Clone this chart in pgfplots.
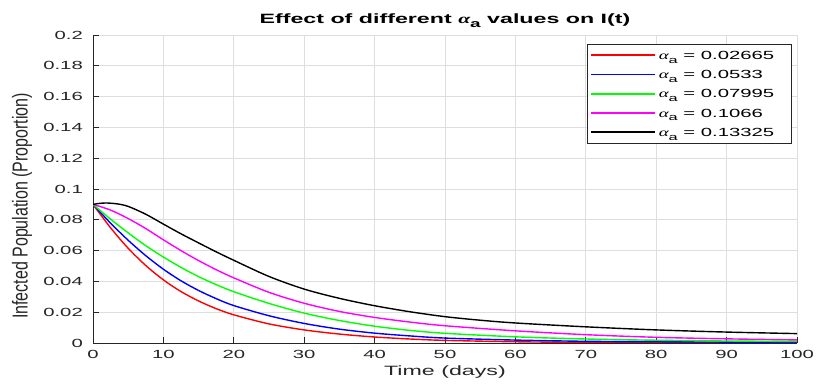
\documentclass[border=0pt]{standalone}
\usepackage{fontspec}
\setmainfont{Liberation Sans}[FakeStretch=1.72]
\newfontfamily\ylabfont{Liberation Sans}
\newfontfamily\grk{Liberation Serif}[FakeStretch=1.6]
\usepackage{pgfplots}
\pgfplotsset{compat=1.18}
\newcommand{\alp}{{\grk\itshape α}\raisebox{-0.6ex}{\fontsize{9.5bp}{10bp}\selectfont a}}
\newcommand{\alpb}{{\grk\bfseries\itshape α}\raisebox{-0.6ex}{\fontsize{11bp}{11bp}\selectfont\bfseries a}}
\definecolor{axgray}{gray}{0.15}
\definecolor{grdgray}{gray}{0.87}
\definecolor{cred}{rgb}{1,0,0}
\definecolor{cblue}{rgb}{0,0,1}
\definecolor{cgreen}{rgb}{0,1,0}
\definecolor{cmag}{rgb}{1,0,1}
\definecolor{cblack}{rgb}{0,0,0}
\begin{document}
\begin{tikzpicture}
\useasboundingbox (0,0) rectangle (816bp,385bp);
\begin{axis}[
  at={(93bp,42bp)}, anchor=south west,
  scale only axis, width=704bp, height=308bp,
  xmin=0, xmax=100, ymin=0, ymax=0.2,
  axis x line*=bottom, axis y line*=left,
  axis line style={-, draw=axgray, line width=0.8bp},
  tick align=inside, major tick length=6bp,
  major tick style={draw=axgray, line width=0.8bp},
  xtick={0,10,20,30,40,50,60,70,80,90,100},
  ytick={0,0.02,0.04,0.06,0.08,0.1,0.12,0.14,0.16,0.18,0.2},
  scaled y ticks=false,
  /pgf/number format/assume math mode=true,
  /pgf/number format/.cd, fixed, precision=2, /pgfplots/.cd,
  grid=major, major grid style={draw=grdgray, line width=0.7bp},
  tick label style={font=\fontsize{11.8bp}{13bp}\selectfont, text=axgray, inner sep=0pt},
  yticklabel style={xshift=-10bp},
  xticklabel style={yshift=-7bp},
  xlabel={Time (days)},
  xlabel style={font=\fontsize{13.5bp}{15bp}\selectfont, text=axgray, at={(axis description cs:0.5,-0.094)}, anchor=center},
  ylabel={\ylabfont Infected Population (Proportion)},
  ylabel style={font=\fontsize{16bp}{18bp}\selectfont, text=axgray, at={(axis description cs:-0.1009,0.445)}, anchor=center, yscale=1.35},
  title={\bfseries Effect of different \alpb{} values on I(t)},
  title style={font=\fontsize{13.5bp}{15bp}\selectfont, at={(axis description cs:0.5,1)}, anchor=base, yshift=5.7bp},
  legend cell align=left,
  legend image code/.code={\draw[#1, line width=1.9bp] (0bp,0bp) -- (64bp,0bp);},
  legend style={at={(axis description cs:1,1)}, anchor=north east, xshift=-6bp, yshift=-9bp,
    draw=axgray, fill=white, inner xsep=3bp, inner ysep=4.3bp, row sep=5.6bp,
    font=\fontsize{11.8bp}{13bp}\selectfont,
    nodes={inner xsep=3bp, inner ysep=2bp, text height=9bp, text depth=0.6bp}},
]
\addplot[cred, line width=1.4bp, smooth] coordinates {
(0,0.0900) (2.5,0.0748) (5,0.0615) (7.5,0.0503) (10,0.0410) (12.5,0.0334) (15,0.0273) (17.5,0.0223) (20,0.0183)
(25,0.0124) (30,0.0085) (35,0.0058) (40,0.0039) (45,0.0026) (50,0.0017) (60,0.0008) (70,0.0004) (80,0.0002) (90,0.00013) (100,0.00009)};
\addlegendentry{\makebox[126bp][l]{\alp{} = 0.02665}}
\addplot[cblue, line width=1.4bp, smooth] coordinates {
(0,0.0900) (2.5,0.0778) (5,0.0667) (7.5,0.0567) (10,0.0479) (12.5,0.0404) (15,0.0341) (17.5,0.0288) (20,0.0243)
(25,0.0177) (30,0.0127) (35,0.0090) (40,0.0064) (45,0.0046) (50,0.0032) (60,0.0019) (70,0.0011) (80,0.0008) (90,0.0006) (100,0.0005)};
\addlegendentry{\makebox[126bp][l]{\alp{} = 0.0533}}
\addplot[cgreen, line width=1.4bp, smooth] coordinates {
(0,0.0900) (2.5,0.0804) (5,0.0715) (7.5,0.0632) (10,0.0558) (12.5,0.0491) (15,0.0431) (17.5,0.0379) (20,0.0333)
(25,0.0257) (30,0.0194) (35,0.0146) (40,0.0109) (45,0.0082) (50,0.0063) (60,0.0040) (70,0.0026) (80,0.0018) (90,0.0013) (100,0.0010)};
\addlegendentry{\makebox[126bp][l]{\alp{} = 0.07995}}
\addplot[cmag, line width=1.4bp, smooth] coordinates {
(0,0.0900) (2.5,0.0863) (5,0.0808) (7.5,0.0743) (10,0.0670) (12.5,0.0600) (15,0.0535) (17.5,0.0476) (20,0.0423)
(25,0.0329) (30,0.0258) (35,0.0205) (40,0.0166) (45,0.0136) (50,0.0112) (60,0.0079) (70,0.0054) (80,0.0037) (90,0.0027) (100,0.0020)};
\addlegendentry{\makebox[126bp][l]{\alp{} = 0.1066}}
\addplot[cblack, line width=1.4bp, smooth] coordinates {
(0,0.0900) (1,0.0907) (2,0.0909) (3.5,0.0903) (5,0.0887) (7.5,0.0836) (10,0.0772) (12.5,0.0709) (15,0.0650) (17.5,0.0592) (20,0.0537)
(25,0.0432) (30,0.0350) (35,0.0290) (40,0.0242) (45,0.0203) (50,0.0171) (55,0.0148) (60,0.0130) (70,0.0105) (80,0.0085) (90,0.0071) (100,0.0061)};
\addlegendentry{\makebox[126bp][l]{\alp{} = 0.13325}}
\end{axis}
\end{tikzpicture}
\end{document}
